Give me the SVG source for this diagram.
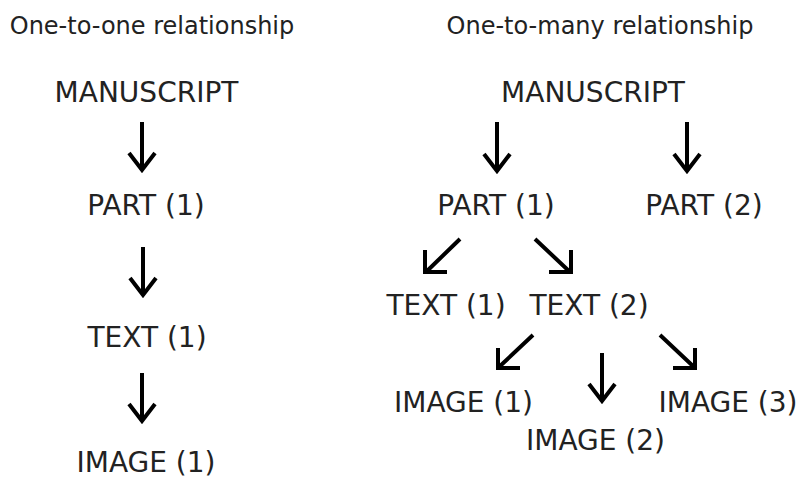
<svg xmlns="http://www.w3.org/2000/svg" width="805" height="480" viewBox="0 0 805 480">
<style>
  text { font-family: "DejaVu Sans", Verdana, sans-serif; fill: #222; }
  .title { font-size: 24px; text-anchor: middle; }
  .node { font-size: 28px; text-anchor: middle; }
  .arr { fill: none; stroke: #000; stroke-width: 4; stroke-linejoin: miter; stroke-miterlimit: 10; }
</style>
<rect width="805" height="480" fill="#fff"/>
<g id="title-left"><text class="title" x="152" y="34">One-to-one relationship</text></g>
<g id="title-right"><text class="title" x="600" y="34">One-to-many relationship</text></g>

<g id="l-manuscript"><text class="node" x="146.5" y="102">MANUSCRIPT</text></g>
<g id="l-part1"><text class="node" x="146" y="215">PART (1)</text></g>
<g id="l-text1"><text class="node" x="147" y="347">TEXT (1)</text></g>
<g id="l-image1"><text class="node" x="146" y="472">IMAGE (1)</text></g>

<g id="r-manuscript"><text class="node" x="593" y="102">MANUSCRIPT</text></g>
<g id="r-part1"><text class="node" x="496" y="215">PART (1)</text></g>
<g id="r-part2"><text class="node" x="704" y="215">PART (2)</text></g>
<g id="r-text1"><text class="node" x="446" y="315">TEXT (1)</text></g>
<g id="r-text2"><text class="node" x="589" y="315">TEXT (2)</text></g>
<g id="r-image1"><text class="node" x="463.5" y="412">IMAGE (1)</text></g>
<g id="r-image2"><text class="node" x="595.5" y="450">IMAGE (2)</text></g>
<g id="r-image3"><text class="node" x="728" y="412">IMAGE (3)</text></g>

<g id="connectors">
  <path class="arr" d="M142,122 V170 M129,153 L142,170 L155,153"/>
  <path class="arr" d="M143,247 V295 M130,278 L143,295 L156,278"/>
  <path class="arr" d="M142,373 V421 M129,404 L142,421 L155,404"/>
  <path class="arr" d="M497,122 V171 M484,154 L497,171 L510,154"/>
  <path class="arr" d="M687,122 V171 M674,154 L687,171 L700,154"/>
  <path class="arr" d="M460,239 L426,272 M425,250 V272 H447"/>
  <path class="arr" d="M535,239 L570,272 M571,250 V272 H549"/>
  <path class="arr" d="M533,335 L499,367 M498,348 V368 H520"/>
  <path class="arr" d="M602,353 V401 M589,384 L602,401 L615,384"/>
  <path class="arr" d="M660,335 L694,367 M695,348 V368 H673"/>
</g>
</svg>
